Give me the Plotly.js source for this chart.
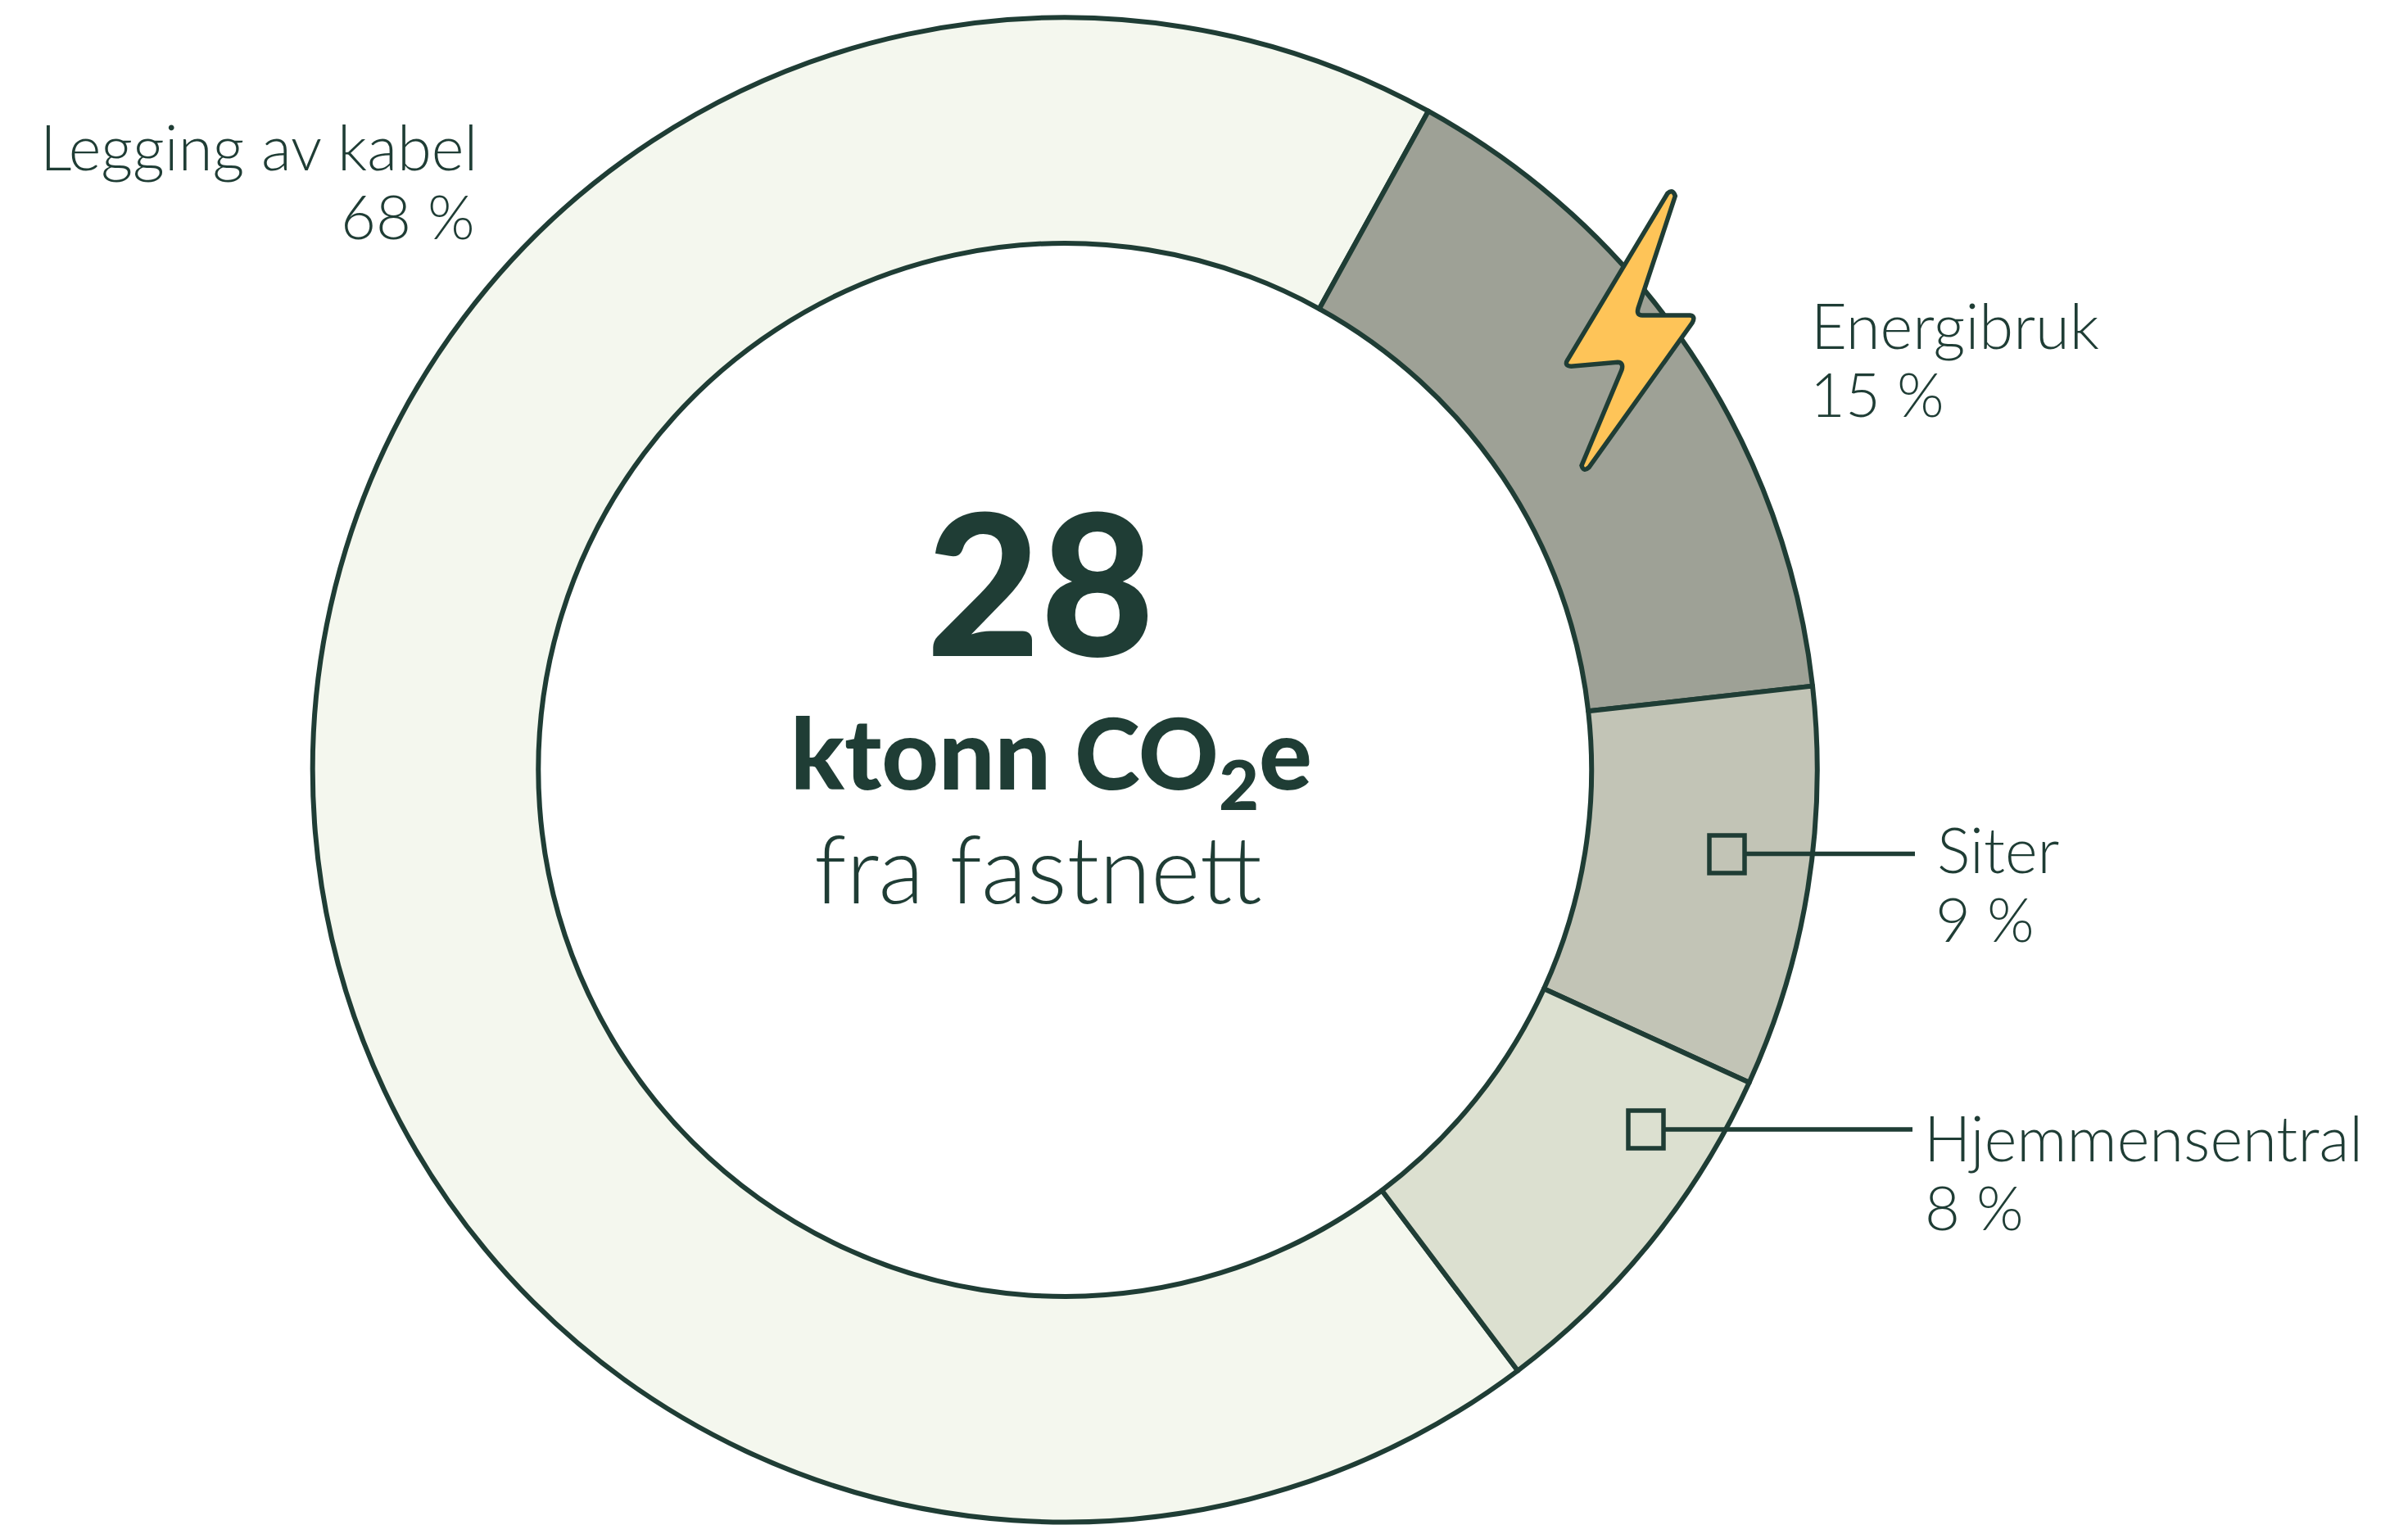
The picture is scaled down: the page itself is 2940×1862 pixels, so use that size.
<!DOCTYPE html>
<html>
<head>
<meta charset="utf-8">
<script src="https://cdn.plot.ly/plotly-3.0.1.min.js"></script>
<style>html,body{margin:0;padding:0;background:#fff}#chart{width:2940px;height:1862px}</style>
</head>
<body>
<div id="chart"></div>
<script>
var categories = ["Legging av kabel", "Energibruk", "Siter", "Hjemmensentral"];
var values = [68.3, 15.2, 8.6, 7.9];
var percentLabels = ["68 %", "15 %", "9 %", "8 %"];
var sliceColors = ["#f4f7ee", "#9ea196", "#c2c4b6", "#dce0d0"];
var totalValue = "28";
var unitLines = ["ktonn CO<sub>2</sub>e", "fra fastnett"];

var W = 2940, H = 1862, INK = "#1f3d35", BOLT = "#fec458";
var cx = 1300.25, cy = 940, R = 918.5;
function X(p){return p/W;}
function Y(p){return 1-p/H;}
function pathFrom(cmds){
  return cmds.map(function(c){
    var out=c[0];
    for(var i=1;i<c.length;i+=2){out+=(i>1?" ":"")+X(c[i])+","+Y(c[i+1]);}
    return out;
  }).join(" ")+" Z";
}
function bz(x,y){return [1850+x/3,200+y/3];}
function cmd(l){var a=[l];for(var i=1;i<arguments.length;i++){var p=bz(arguments[i][0],arguments[i][1]);a.push(p[0],p[1]);}return a;}
var boltPath = pathFrom([
  cmd("M",[558,108]),
  cmd("Q",[577,90],[586,118]),
  cmd("L",[450,530]),
  cmd("Q",[443,555],[465,555]),
  cmd("L",[640,555]),
  cmd("Q",[662,558],[648,583]),
  cmd("L",[270,1112]),
  cmd("Q",[250,1130],[243,1105]),
  cmd("L",[390,755]),
  cmd("Q",[398,728],[375,727]),
  cmd("L",[205,742]),
  cmd("Q",[178,740],[192,718])
]);
function line(x0,y0,x1,y1){return {type:"line",xref:"paper",yref:"paper",x0:X(x0),x1:X(x1),y0:Y(y0),y1:Y(y1),line:{color:INK,width:5.5},layer:"above"};}
function box(x0,y0,x1,y1,fill){return {type:"rect",xref:"paper",yref:"paper",x0:X(x0),x1:X(x1),y0:Y(y0),y1:Y(y1),fillcolor:fill,line:{color:INK,width:5.5},layer:"above"};}

var shapes = [
  line(2130,1042.5,2338,1042.5), box(2087,1020,2130,1066,sliceColors[2]),
  line(2031,1379,2335,1379), box(1988,1356,2031,1402,sliceColors[3]),
  {type:"path",xref:"paper",yref:"paper",path:boltPath,fillcolor:BOLT,line:{color:INK,width:5.5},layer:"above"}
];

var nameFont = {family:"Lato, 'Noto Sans', sans-serif",color:INK,size:76,weight:300};
var pctFont = {family:"Lato, 'Noto Sans', sans-serif",color:INK,size:74,weight:300};
function ann(text,x,y,xa,font){
  return {xref:"paper",yref:"paper",x:X(x),y:Y(y),xanchor:xa,yanchor:"middle",text:text,showarrow:false,font:font,borderpad:0};
}
var nameAnchors = [[584,203,"right"],[2210,421,"left"],[2364,1061,"left"],[2348,1413,"left"]];
var pctAnchors = [[581,289,"right"],[2209,506,"left"],[2362,1146,"left"],[2349,1498,"left"]];
var baseShift = 25;
var annotations = [];
categories.forEach(function(c,i){
  var a=nameAnchors[i], b=pctAnchors[i];
  annotations.push(ann(c,a[0],a[1]-baseShift,a[2],nameFont));
  annotations.push(ann(percentLabels[i],b[0],b[1]-baseShift,b[2],pctFont));
});
annotations.push(ann(totalValue,1270,708,"center",{family:"Lato, sans-serif",color:INK,size:240,weight:900}));
annotations.push(ann(unitLines[0],1283,926,"center",{family:"Lato, sans-serif",color:INK,size:121,weight:900}));
annotations.push(ann(unitLines[1],1267,1057.5,"center",{family:"Lato, sans-serif",color:INK,size:115,weight:300}));

Plotly.newPlot("chart",[{
  type:"pie",
  labels:categories,
  values:values,
  sort:false,
  direction:"clockwise",
  rotation:143,
  hole:0.7,
  textinfo:"none",
  hoverinfo:"label+percent",
  marker:{colors:sliceColors,line:{color:INK,width:6}},
  domain:{x:[(cx-R)/W,(cx+R)/W],y:[1-(cy+R)/H,1-(cy-R)/H]},
  showlegend:false
}],{
  width:W,height:H,
  margin:{l:0,r:0,t:0,b:0},
  paper_bgcolor:"#fff",
  showlegend:false,
  shapes:shapes,
  annotations:annotations
},{displayModeBar:false,staticPlot:true});
</script>
</body>
</html>
